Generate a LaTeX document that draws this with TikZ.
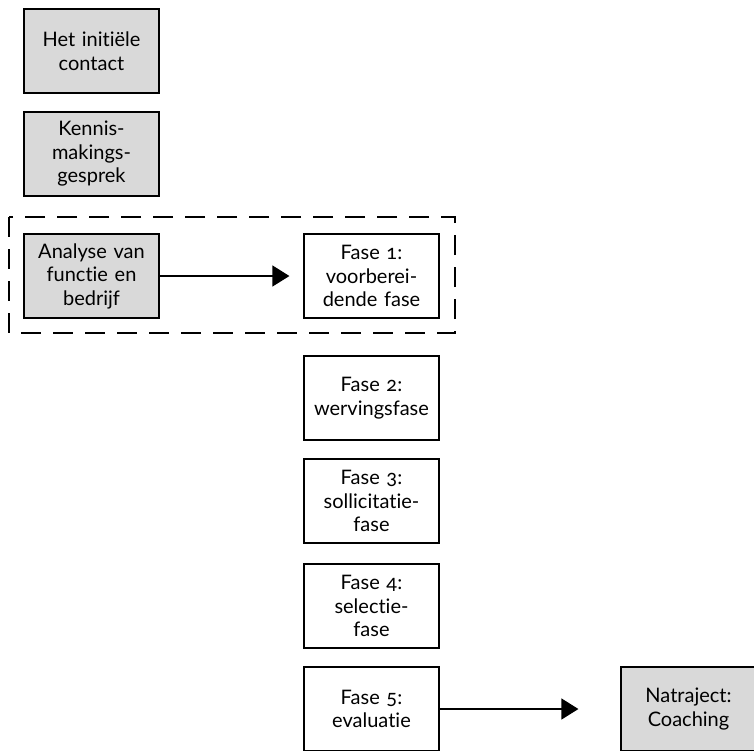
\documentclass[tikz,border=0pt]{standalone}
\usepackage{fontspec}
\setmainfont[Numbers=OldStyle,Ligatures=NoCommon]{Lato}
\usepackage{tikz}
\usetikzlibrary{arrows,arrows.meta,shapes}
\definecolor{boxgray}{RGB}{217,217,217}
\tikzstyle{phase}=[rectangle,draw,line width=1.2pt,minimum width=135pt,minimum height=84pt,text width=130pt,align=center,inner sep=0pt,font=\fontsize{20}{23.5}\selectfont]
\tikzstyle{grayphase}=[phase,fill=boxgray]
\tikzstyle{edge} = [draw,line width=1.2pt,-{Triangle[length=17pt,width=21pt]}]

\begin{document}
\begin{tikzpicture}[x=1pt,y=-1pt]
    \clip (0,0) rectangle (754,750);
    % Grey boxes: steps before and after the procedure
    \foreach \pos/\name/\txt in {{(91.5,51)/init/{Het initiële\\contact}},
                                 {(91.5,154)/kennis/{Kennis-\\makings-\\gesprek}},
                                 {(91.5,276)/analyse/{Analyse van\\functie en\\bedrijf}},
                                 {(688.5,709)/natraject/{Natraject:\\Coaching}}}
        \node[grayphase] (\name) at \pos {\txt};
    % White boxes: the five phases
    \foreach \pos/\name/\txt in {{(371.5,276)/fase1/{Fase 1:\\voorberei-\\dende fase}},
                                 {(371.5,398)/fase2/{Fase 2:\\wervingsfase}},
                                 {(371.5,501)/fase3/{Fase 3:\\sollicitatie-\\fase}},
                                 {(371.5,606)/fase4/{Fase 4:\\selectie-\\fase}},
                                 {(371.5,709)/fase5/{Fase 5:\\evaluatie}}}
        \node[phase] (\name) at \pos {\txt};
    % Arrows
    \path[edge, shorten >=14pt] (analyse) -- (fase1);
    \path[edge, shorten >=42pt] (fase5) -- (natraject);
    % Dashed frame round the first phase
    \draw[line width=1.3pt, dash pattern=on 20pt off 12pt] (9,217) rectangle (455,333);
\end{tikzpicture}
\end{document}
